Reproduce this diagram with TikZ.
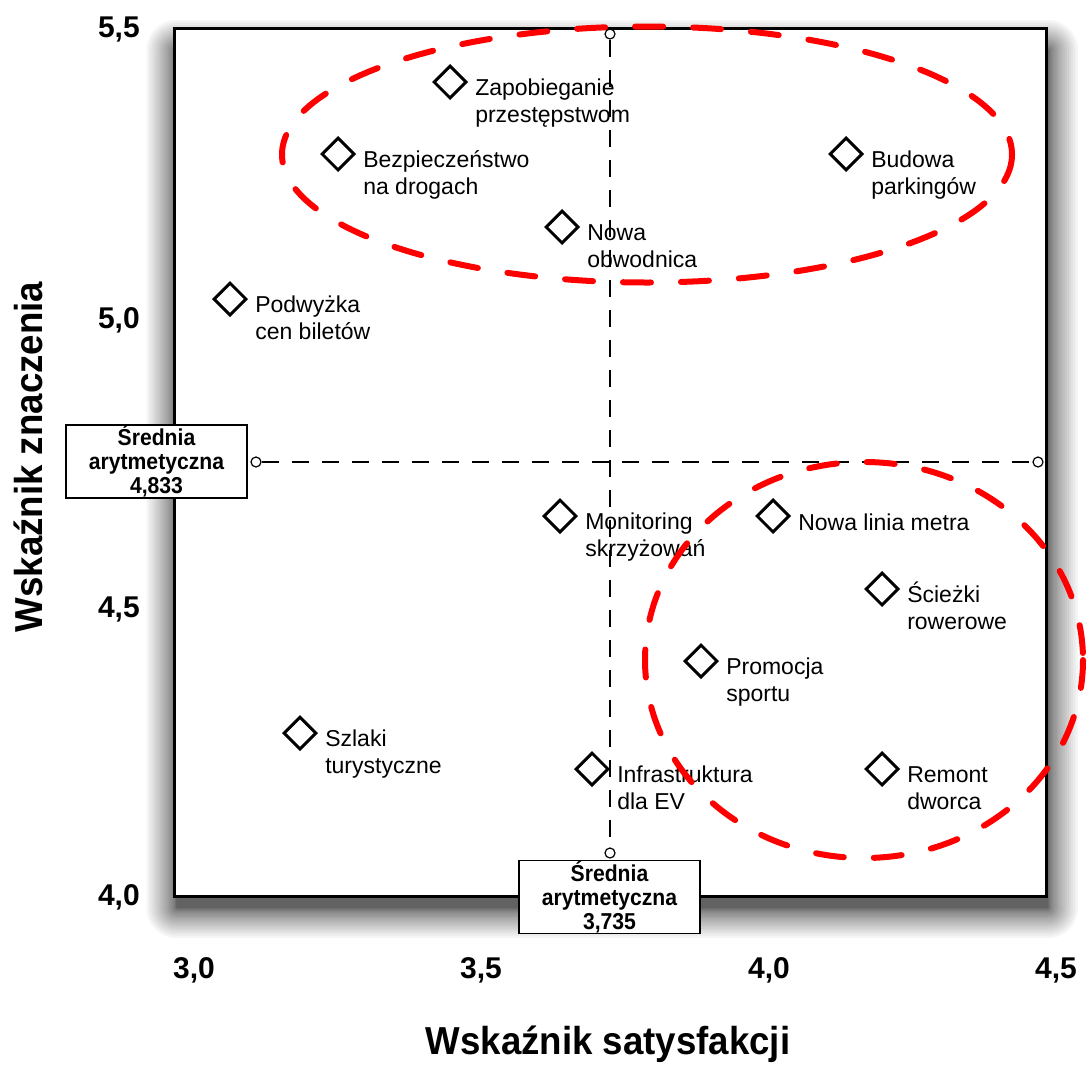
\documentclass[tikz,border=0pt]{standalone}
\usepackage{fontspec}
\setmainfont{Liberation Sans}
\newfontfamily\condfont{Liberation Sans}[FakeStretch=0.92]
\newfontfamily\titlefont{Liberation Sans}[FakeStretch=0.94]
\usetikzlibrary{shapes.geometric}
\newcommand{\twolines}[2]{\begin{tabular}[t]{@{}l@{}}#1\\#2\end{tabular}}
\begin{document}
\begin{tikzpicture}[x=0.75pt,y=-0.75pt,
  lab/.style={font=\fontsize{17.25}{20.6}\selectfont, anchor=base west, inner sep=0pt},
  datapt/.style={draw, shape=diamond, line width=2.25pt, minimum width=24.75pt, minimum height=24.75pt, inner sep=0pt},
  mk/.style={draw, circle, fill=white, minimum size=7.5pt, inner sep=0pt, line width=0.9pt},
  meanline/.style={line width=1.1pt, dash pattern=on 12.75pt off 9.75pt},
  redring/.style={draw=red, line width=4.5pt, line cap=round, dash pattern=on 21pt off 22.5pt},
  meanbox/.style={draw, fill=white, line width=1.1pt, minimum width=135.75pt, minimum height=54.75pt, inner sep=0pt, align=center, font=\condfont\bfseries\fontsize{17.25}{18}\selectfont},
  tick/.style={font=\bfseries\fontsize{22.5}{27}\selectfont, inner sep=0pt},
  axtitle/.style={font=\titlefont\bfseries\fontsize{29.25}{35}\selectfont, inner sep=0pt}]
\useasboundingbox (0,0) rectangle (1087,1064);
% soft shadow of the plot area
\foreach \k in {1,...,24}{
  \pgfmathsetmacro\e{30*(\k/24)^2}
  \fill[black, opacity=0.04, rounded corners=\e*0.75pt] ({176.5-\e},{50-\e}) rectangle ({1048+\e},{908+\e});
}
% plot area
\draw[line width=2.25pt, fill=white] (174.5,28) rectangle (1046,896);
% mean lines
\node[mk] (mt) at (610,34) {};
\node[mk] (mb) at (610,853) {};
\node[mk] (ml) at (256,462) {};
\node[mk] (mr) at (1038,462) {};
\draw[meanline] (mt) -- (mb);
\draw[meanline] (ml) -- (mr);
% data points
\node[datapt] (p1) at (450,82) {};
\node[lab] (l1) at (475,95) {\twolines{Zapobieganie}{przestępstwom}};
\node[datapt] (p2) at (338,154) {};
\node[lab] (l2) at (363,167) {\twolines{Bezpieczeństwo}{na drogach}};
\node[datapt] (p3) at (846,154) {};
\node[lab] (l3) at (871,167) {\twolines{Budowa}{parkingów}};
\node[datapt] (p4) at (562,227) {};
\node[lab] (l4) at (587,240) {\twolines{Nowa}{obwodnica}};
\node[datapt] (p5) at (230,299) {};
\node[lab] (l5) at (255,312) {\twolines{Podwyżka}{cen biletów}};
\node[datapt] (p6) at (560,516) {};
\node[lab] (l6) at (585,529) {\twolines{Monitoring}{skrzyżowań}};
\node[datapt] (p7) at (773,516) {};
\node[lab] (l7) at (798,530) {Nowa linia metra};
\node[datapt] (p8) at (882,589) {};
\node[lab] (l8) at (907,602) {\twolines{Ścieżki}{rowerowe}};
\node[datapt] (p9) at (701,661) {};
\node[lab] (l9) at (726,674) {\twolines{Promocja}{sportu}};
\node[datapt] (p10) at (300,733) {};
\node[lab] (l10) at (325,746) {\twolines{Szlaki}{turystyczne}};
\node[datapt] (p11) at (592,769) {};
\node[lab] (l11) at (617,782) {\twolines{Infrastruktura}{dla EV}};
\node[datapt] (p12) at (882,769) {};
\node[lab] (l12) at (907,782) {\twolines{Remont}{dworca}};
% highlighted groups
\draw[redring] (647,154.5) ellipse [x radius=365, y radius=128];
\draw[redring] (864,660) ellipse [x radius=219, y radius=198];
% mean value boxes
\node[meanbox] (bl) at (156.5,461.5) {Średnia\\arytmetyczna\\4,833};
\node[meanbox] (bb) at (609.5,897) {Średnia\\arytmetyczna\\3,735};
% tick labels
\node[tick, anchor=base east] (y55) at (140,37) {5,5};
\node[tick, anchor=base east] (y50) at (140,328) {5,0};
\node[tick, anchor=base east] (y45) at (140,617) {4,5};
\node[tick, anchor=base east] (y40) at (140,905) {4,0};
\node[tick, anchor=base] (x30) at (194,978) {3,0};
\node[tick, anchor=base] (x35) at (481,978) {3,5};
\node[tick, anchor=base] (x40) at (769,978) {4,0};
\node[tick, anchor=base] (x45) at (1056,978) {4,5};
% axis titles
\node[axtitle, anchor=base] (xt) at (608,1054) {Wskaźnik satysfakcji};
\node[axtitle, anchor=base, rotate=90] (yt) at (42,457) {Wskaźnik znaczenia};
\end{tikzpicture}
\end{document}
